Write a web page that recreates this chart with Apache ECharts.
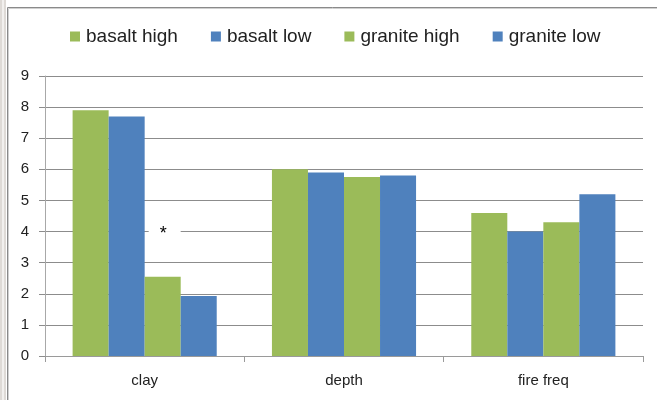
<!DOCTYPE html>
<html>
<head>
<meta charset="utf-8">
<script src="https://cdn.jsdelivr.net/npm/echarts@6/dist/echarts.min.js"></script>
<style>
  html, body { margin: 0; padding: 0; background: #fff; }
  #chart { width: 657px; height: 400px; }
</style>
</head>
<body>
<div id="chart"></div>
<script>
// Soil properties by rock type and fire regime
const categories = ['clay', 'depth', 'fire freq'];
const basaltHigh = [7.9, 6.0, 4.6];
const basaltLow = [7.7, 5.9, 4.0];
const graniteHigh = [2.55, 5.75, 4.3];
const graniteLow = [1.93, 5.8, 5.2];
const yTicks = [0, 1, 2, 3, 4, 5, 6, 7, 8, 9];
const sigMark = '*';

const GREEN = '#9BBB59';
const BLUE = '#4F81BD';
const FONT = '"Liberation Sans", "DejaVu Sans", sans-serif';

const chart = echarts.init(document.getElementById('chart'));

function barSeries(name, values, color, extra) {
  return Object.assign({
    name: name,
    type: 'bar',
    data: values.slice(),
    barGap: '0%',
    barCategoryGap: '27.7%',
    itemStyle: { color: color },
    emphasis: { disabled: true }
  }, extra || {});
}

const graniteHighData = graniteHigh.map((v, i) => i === 0 ? {
  value: v,
  label: {
    show: true,
    position: 'top',
    distance: 34,
    offset: [2, 0],
    formatter: sigMark,
    color: '#000',
    fontSize: 18,
    fontFamily: FONT,
    backgroundColor: '#fff',
    padding: [3, 14, 0, 11]
  }
} : v);

chart.setOption({
  animation: false,
  backgroundColor: '#fff',
  graphic: [
    { type: 'rect', shape: { x: 0, y: 0, width: 6, height: 400 }, style: { fill: '#dedad6' }, z: 100 },
    { type: 'rect', shape: { x: 2, y: 0, width: 2, height: 400 }, style: { fill: '#f2f0ee' }, z: 101 },
    { type: 'line', shape: { x1: 7.5, y1: 7.5, x2: 7.5, y2: 400 }, style: { stroke: '#8a8a8a', lineWidth: 1 }, z: 100 },
    { type: 'line', shape: { x1: 7.5, y1: 7.5, x2: 657, y2: 7.5 }, style: { stroke: '#8a8a8a', lineWidth: 1 }, z: 100 },
    { type: 'line', shape: { x1: 8.5, y1: 8.5, x2: 8.5, y2: 400 }, style: { stroke: '#d0d0d0', lineWidth: 1 }, z: 100 },
    { type: 'line', shape: { x1: 8.5, y1: 8.5, x2: 657, y2: 8.5 }, style: { stroke: '#d0d0d0', lineWidth: 1 }, z: 100 }
  ],
  legend: {
    top: 27,
    left: 70,
    padding: 0,
    itemWidth: 10,
    itemHeight: 10,
    itemGap: 33,
    icon: 'rect',
    textStyle: { fontSize: 19, color: '#222', fontFamily: FONT, padding: [0, 0, 0, 1] },
    data: ['basalt high', 'basalt low', 'granite high', 'granite low']
  },
  grid: { left: 45, right: 14, top: 76, bottom: 44, containLabel: false },
  xAxis: {
    type: 'category',
    data: categories,
    axisLine: { lineStyle: { color: '#9a9a9a', width: 1 } },
    axisTick: { show: true, alignWithLabel: false, length: 6, lineStyle: { color: '#9a9a9a' } },
    axisLabel: { fontSize: 15, color: '#222', fontFamily: FONT, margin: 17 }
  },
  yAxis: {
    type: 'value',
    min: yTicks[0],
    max: yTicks[yTicks.length - 1],
    interval: 1,
    axisLine: { show: true, lineStyle: { color: '#a8a8a8', width: 1 } },
    axisTick: { show: true, inside: false, length: 6, lineStyle: { color: '#8c8c8c' } },
    splitLine: { lineStyle: { color: '#8c8c8c', width: 1 } },
    axisLabel: { fontSize: 15, color: '#222', fontFamily: FONT, margin: 16 }
  },
  series: [
    barSeries('basalt high', basaltHigh, GREEN),
    barSeries('basalt low', basaltLow, BLUE),
    barSeries('granite high', graniteHighData, GREEN),
    barSeries('granite low', graniteLow, BLUE)
  ]
});
</script>
</body>
</html>
